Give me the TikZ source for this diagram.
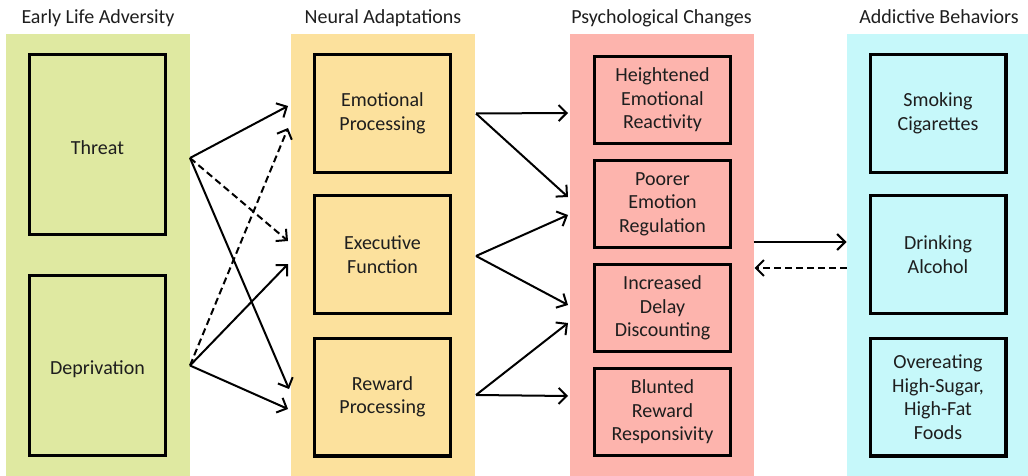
\documentclass[tikz,border=0pt]{standalone}
\usepackage{fontspec}
\setmainfont{Carlito}
\usetikzlibrary{arrows.meta,positioning}

\definecolor{advgreen}{RGB}{223,233,161}
\definecolor{neuralorange}{RGB}{252,225,157}
\definecolor{psychpink}{RGB}{253,180,173}
\definecolor{addcyan}{RGB}{198,248,250}
\definecolor{textgray}{RGB}{30,30,30}

\begin{document}
\begin{tikzpicture}[x=1pt, y=-1pt,
    font=\fontsize{20}{23.5}\selectfont, text=textgray,
    >={Straight Barb[length=8pt,width=16pt]},
    col/.style={minimum width=184pt, minimum height=442pt, inner sep=0pt, outer sep=0pt},
    bigbox/.style={draw, line width=3.3pt, align=center, inner sep=0pt, minimum width=135.7pt,
        execute at begin node={\rule{0pt}{21pt}}},
    arr/.style={->, line width=2pt},
    dasharr/.style={arr, dash pattern=on 7pt off 4pt}]

    \useasboundingbox (0,0) rectangle (1028,476);

    % background columns
    \node[col, fill=advgreen] (adv) at (98,255) {};
    \node[col, fill=neuralorange] (neu) at (383,255) {};
    \node[col, fill=psychpink] (psy) at (661.5,255) {};
    \node[col, fill=addcyan] (add) at (939,255) {};

    \node[anchor=base] (advhead) at (98,24) {Early Life Adversity};
    \node[anchor=base] (neuhead) at (383,24) {Neural Adaptations};
    \node[anchor=base] (psyhead) at (661.5,24) {Psychological Changes};
    \node[anchor=base] (addhead) at (939,24) {Addictive Behaviors};

    % early life adversity
    \node[bigbox, minimum height=179.7pt] (threat) at (97.5,144.5) {Threat};
    \node[bigbox, minimum height=179.7pt] (depriv) at (97.5,365.5) {Deprivation};

    % neural adaptations
    \node[bigbox, minimum height=117.7pt] (emo) at (382.5,113.5) {Emotional\\Processing};
    \node[bigbox, minimum height=117.7pt] (exec) at (382.5,254.5) {Executive\\Function};
    \node[bigbox, minimum height=117.7pt] (rew) at (382.5,397) {Reward\\Processing};

    % psychological changes
    \node[bigbox, minimum height=86.7pt] (heighten) at (662.5,100) {Heightened\\Emotional\\Reactivity};
    \node[bigbox, minimum height=86.7pt, below=14pt of heighten] (poorer) {Poorer\\Emotion\\Regulation};
    \node[bigbox, minimum height=86.7pt, below=14pt of poorer] (incr) {Increased\\Delay\\Discounting};
    \node[bigbox, minimum height=86.7pt, below=14pt of incr] (blunt) {Blunted\\Reward\\Responsivity};

    % addictive behaviors
    \node[bigbox, minimum height=117.7pt] (smoke) at (938,113.5) {Smoking\\Cigarettes};
    \node[bigbox, minimum height=117.7pt] (drink) at (938,254.5) {Drinking\\Alcohol};
    \node[bigbox, minimum height=117.7pt] (food) at (938,397) {Overeating\\High-Sugar,\\High-Fat\\Foods};

    \coordinate (thrOut) at ([xshift=23pt,yshift=-13.5pt]threat.east);
    \coordinate (depOut) at ([xshift=23pt]depriv.east);
    \draw[arr] (thrOut) -- ([xshift=-25pt,yshift=7.5pt]emo.west);
    \draw[dasharr] (thrOut) -- ([xshift=-25pt,yshift=13.5pt]exec.west);
    \draw[arr] (thrOut) -- ([xshift=-24pt,yshift=8pt]rew.west);
    \draw[dasharr] (depOut) -- ([xshift=-25pt,yshift=-14.5pt]emo.west);
    \draw[arr] (depOut) -- ([xshift=-25pt,yshift=-9.5pt]exec.west);
    \draw[arr] (depOut) -- ([xshift=-25pt,yshift=-12pt]rew.west);

    \coordinate (emoOut) at ([xshift=24pt]emo.east);
    \coordinate (execOut) at ([xshift=24pt,yshift=-1.5pt]exec.east);
    \coordinate (rewOut) at ([xshift=24pt,yshift=2pt]rew.east);
    \draw[arr] (emoOut) -- ([xshift=-25pt,yshift=-13pt]heighten.west);
    \draw[arr] (emoOut) -- ([xshift=-25pt,yshift=7pt]poorer.west);
    \draw[arr] (execOut) -- ([xshift=-25pt,yshift=-11pt]poorer.west);
    \draw[arr] (execOut) -- ([xshift=-25pt,yshift=3pt]incr.west);
    \draw[arr] (rewOut) -- ([xshift=-25pt,yshift=-15pt]incr.west);
    \draw[arr] (rewOut) -- ([xshift=-25pt,yshift=16pt]blunt.west);

    \coordinate (fwdEnd) at ([xshift=-22pt,yshift=12.5pt]drink.west);
    \coordinate (backStart) at ([xshift=-22pt,yshift=-13.5pt]drink.west);
    \draw[arr] (psy.east |- fwdEnd) -- (fwdEnd);
    \draw[dasharr] (backStart) -- ([xshift=1pt]psy.east |- backStart);

\end{tikzpicture}
\end{document}
